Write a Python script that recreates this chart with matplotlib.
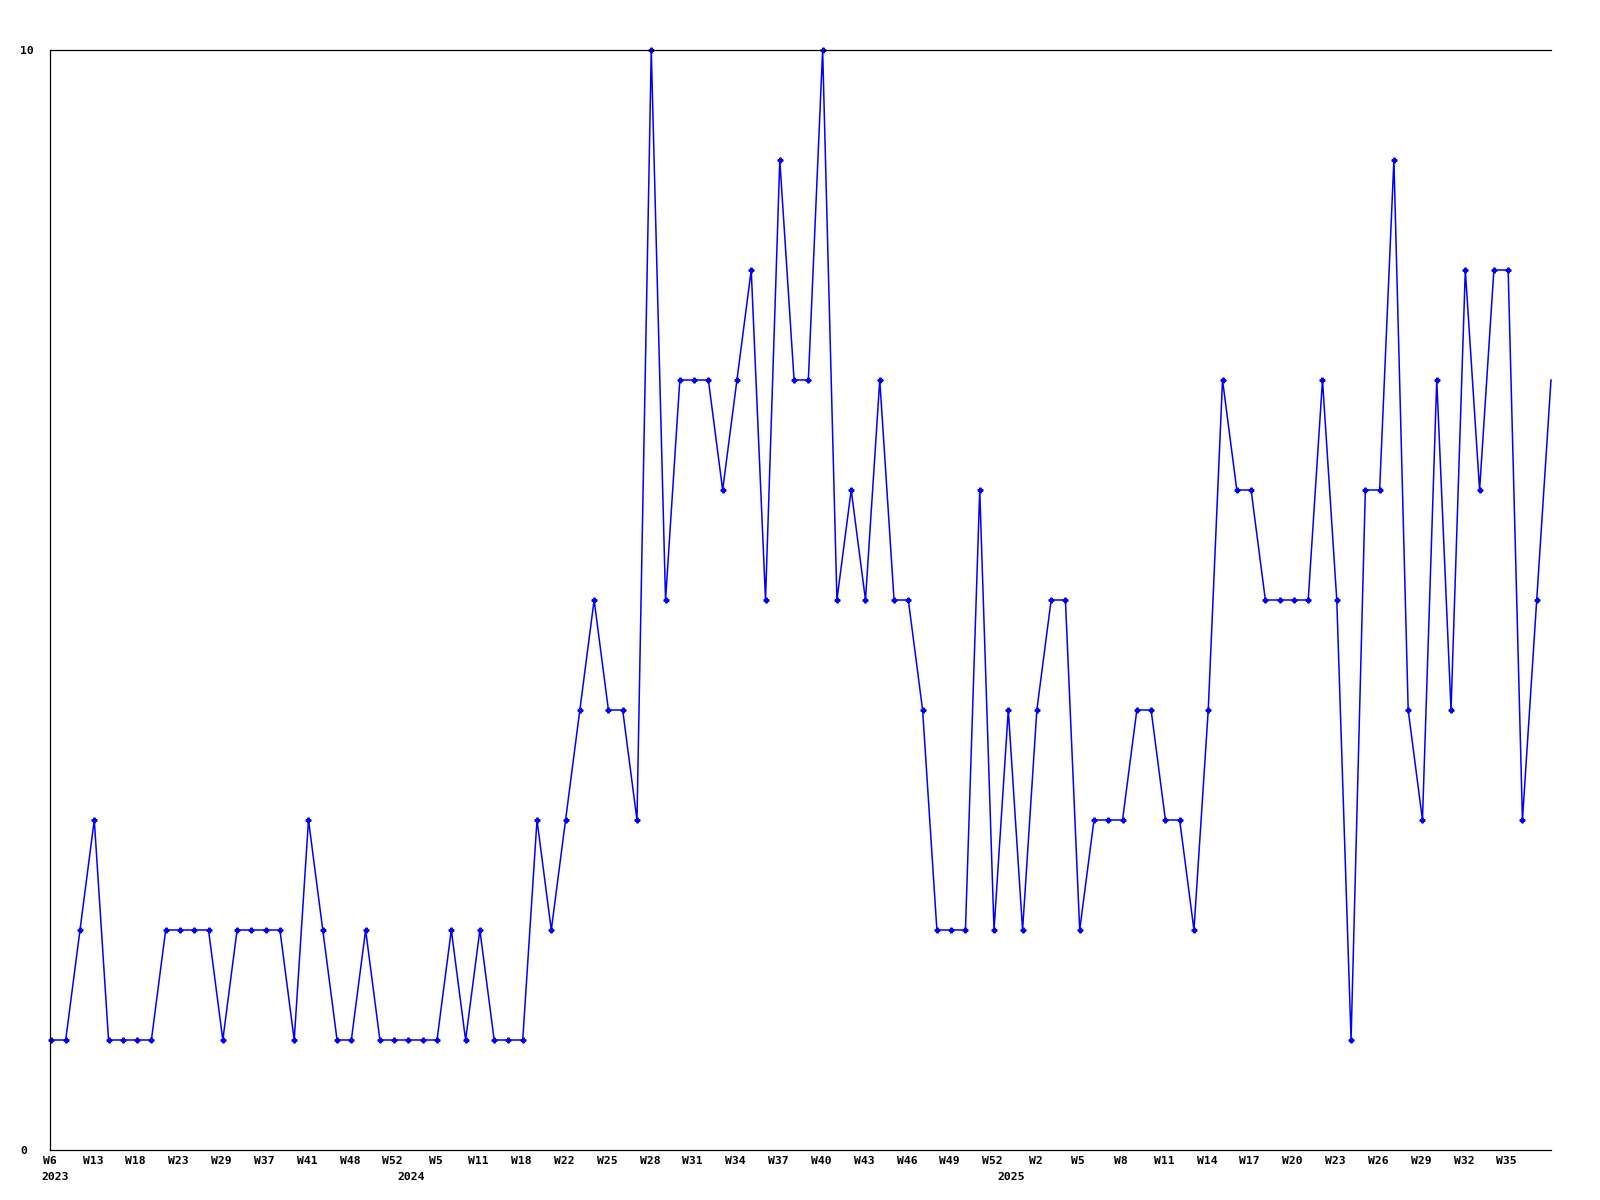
import numpy as np
import matplotlib
matplotlib.use("Agg")
import matplotlib.pyplot as plt
from matplotlib.transforms import blended_transform_factory

# ---- data ----
values = [
    1, 1, 2, 3, 1, 1, 1, 1, 2, 2, 2, 2, 1, 2, 2, 2, 2, 1, 3, 2,
    1, 1, 2, 1, 1, 1, 1, 1, 2, 1, 2, 1, 1, 1, 3, 2, 3, 4, 5, 4,
    4, 3, 10, 5, 7, 7, 7, 6, 7, 8, 5, 9, 7, 7, 10, 5, 6, 5, 7, 5,
    5, 4, 2, 2, 2, 6, 2, 4, 2, 4, 5, 5, 2, 3, 3, 3, 4, 4, 3, 3,
    2, 4, 7, 6, 6, 5, 5, 5, 5, 7, 5, 1, 6, 6, 9, 4, 3, 7, 4, 8,
    6, 8, 8, 3, 5, 7,
]
week_labels = [
    "W6", "W13", "W18", "W23", "W29", "W37", "W41", "W48", "W52",
    "W5", "W11", "W18", "W22", "W25", "W28", "W31", "W34", "W37", "W40",
    "W43", "W46", "W49", "W52",
    "W2", "W5", "W8", "W11", "W14", "W17", "W20", "W23", "W26", "W29",
    "W32", "W35",
]
year_labels = ["2023", "2024", "2025"]
y_ticks = [0, 10]

# ---- layout ----
n = len(values)
x = np.arange(n)
fig = plt.figure(figsize=(16, 12), dpi=100)
ax = fig.add_axes([50 / 1600, 1 - 1150 / 1200, (1551 - 50) / 1600, (1150 - 50) / 1200])

font = dict(family="DejaVu Sans Mono", weight="bold", size=8.2)

ax.plot(x, values, color="#0000ff", lw=1.1, marker="P", ms=3.4,
        markevery=list(range(n - 1)), clip_on=False)

ax.set_xlim(0, n - 1)
ax.set_ylim(0, 10)

for s in ["top", "left", "bottom"]:
    ax.spines[s].set_color("black")
    ax.spines[s].set_linewidth(0.9)
ax.spines["right"].set_visible(False)

# x tick labels (one every 3 points)
tick_idx = np.arange(0, 3 * len(week_labels), 3)
ax.set_xticks(tick_idx - 0.1)
ax.set_xticklabels(week_labels, fontdict=font)
ax.tick_params(axis="x", length=0, pad=4.5)

# year labels
trans = blended_transform_factory(ax.transData, ax.transAxes)
year_pos = [0.25, 25.2, 67.2]
for lbl, p in zip(year_labels, year_pos):
    ax.text(p, -0.0245, lbl, transform=trans, ha="center", va="center", **font)

# y ticks
ax.set_yticks(y_ticks)
ax.set_yticklabels([str(v) for v in y_ticks], fontdict=font)
ax.tick_params(axis="y", length=0, pad=21.6)
for t in ax.get_yticklabels():
    t.set_horizontalalignment("left")

fig.savefig("out.png", dpi=100, facecolor="white")
